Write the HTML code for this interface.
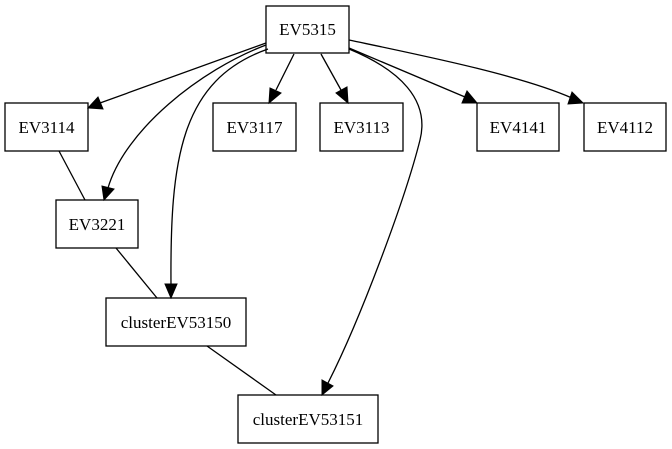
<!DOCTYPE html>
<html><head><style>body{margin:0;background:#fff}svg{display:block}text{font-family:"Liberation Serif",serif;font-size:17px}</style></head><body>
<svg width="672" height="449" viewBox="0 0 672 449" xmlns="http://www.w3.org/2000/svg">
<g fill="none" stroke="#000" stroke-width="1.3">
<rect x="266" y="6" width="83" height="47"/>
<rect x="5" y="103" width="83" height="48"/>
<rect x="213" y="103" width="83" height="48"/>
<rect x="320" y="103" width="83" height="48"/>
<rect x="477" y="103" width="82" height="48"/>
<rect x="584" y="103" width="82" height="48"/>
<rect x="56" y="200" width="82" height="48"/>
<rect x="106" y="298" width="140" height="48"/>
<rect x="238" y="395" width="140" height="48"/>
<path d="M266,43 L100,103"/>
<path d="M266,45 C200,70 125,130 108,188"/>
<path d="M268,49 C180,80 170,160 171,286"/>
<path d="M294,54 L276,90"/>
<path d="M321,54 L341,90"/>
<path d="M349,48 L465,97"/>
<path d="M349,40 C420,55 520,75 572,98"/>
<path d="M349,49 C400,70 430,100 420,140 C405,200 360,320 328,383"/>
<path d="M59,151 L85,200"/>
<path d="M116,248 L157,298"/>
<path d="M207,346 L276,395"/>
</g>
<g fill="#000" stroke="#000">
<polygon points="88,108 98,97 103,109"/>
<polygon points="104,200 102,186 114,189"/>
<polygon points="171,298 165,284 177,284"/>
<polygon points="269,103 270,88 281,93"/>
<polygon points="348,103 336,93 347,87"/>
<polygon points="477,103 462,103 467,91"/>
<polygon points="583,103 568,104 572,92"/>
<polygon points="322,395 322,380 333,386"/>
</g>
<g text-anchor="middle" fill="#000">
<text x="307.5" y="35">EV5315</text>
<text x="46.5" y="133">EV3114</text>
<text x="254.5" y="133">EV3117</text>
<text x="361.5" y="133">EV3113</text>
<text x="518" y="133">EV4141</text>
<text x="625" y="133">EV4112</text>
<text x="97" y="230">EV3221</text>
<text x="176" y="328">clusterEV53150</text>
<text x="308" y="425">clusterEV53151</text>
</g>
</svg>
</body></html>
